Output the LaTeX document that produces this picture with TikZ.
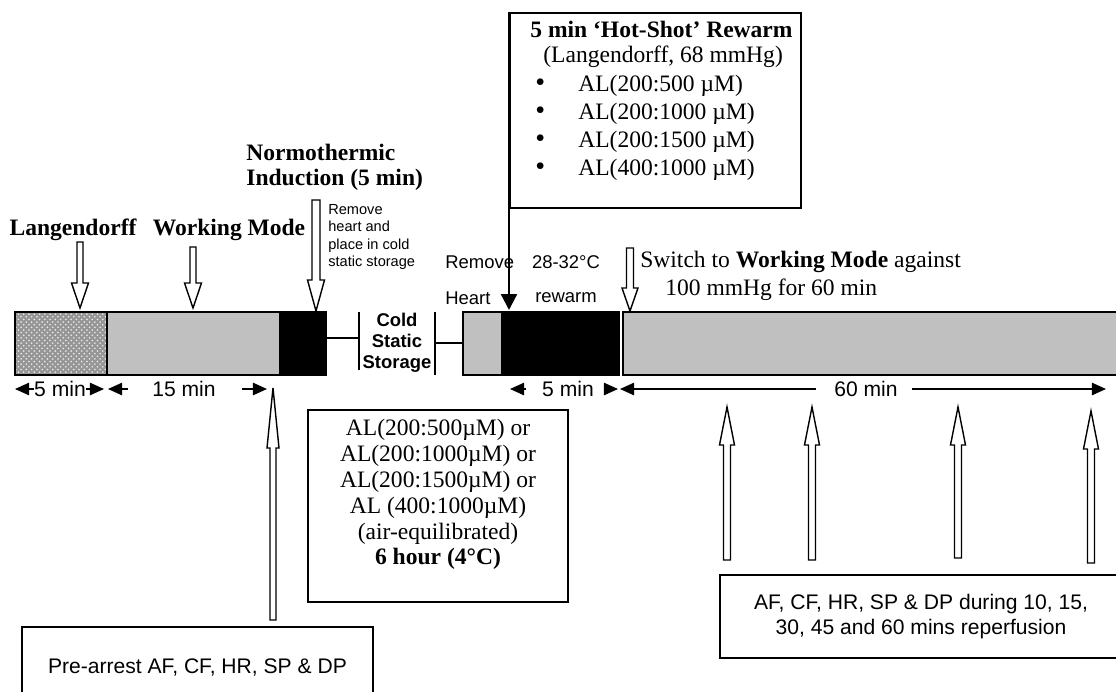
\documentclass[tikz,border=0pt]{standalone}
\usepackage{fontspec}
\setmainfont{Liberation Serif}
\setsansfont{Liberation Sans}
\usetikzlibrary{arrows.meta,patterns,calc}

\definecolor{barg}{RGB}{192,192,192}
\definecolor{stipg}{RGB}{150,150,150}

% hollow block arrow: x, tail y, head base y, tip y, half shaft, half head
\newcommand{\blockarrow}[6]{%
  \draw[blockarr] ({#1-#5},#2) -- ({#1-#5},#3) -- ({#1-#6},#3) -- (#1,#4)
    -- ({#1+#6},#3) -- ({#1+#5},#3) -- ({#1+#5},#2) -- cycle;}
% list bullet
\newcommand{\hsbullet}{\hspace*{0.1cm}\makebox[0.86cm][l]{\smash{\fontsize{16}{16}\selectfont•}}}

\begin{document}
\begin{tikzpicture}[x=0.02cm, y=-0.02cm,
    seg/.style={draw, line width=0.9pt},
    box/.style={draw, line width=1.1pt, inner sep=0pt},
    blockarr/.style={draw, fill=white, line width=0.8pt},
    dim/.style={line width=0.9pt, -{Triangle[length=8pt,width=7pt]}},
    serif/.style={font=\fontsize{13.4}{16}\selectfont},
    bserif/.style={font=\fontsize{13.4}{14.2}\selectfont\bfseries},
    sans/.style={font=\sffamily\fontsize{12}{14}\selectfont},
    msans/.style={font=\sffamily\fontsize{10.5}{12}\selectfont},
    ssans/.style={font=\sffamily\fontsize{8.3}{9.9}\selectfont}]
    \useasboundingbox (0,0) rectangle (1116,691);

    % Timeline before storage
    \draw[seg, preaction={fill=stipg}, pattern=crosshatch dots, pattern color=white!85!stipg]
        (15,312) rectangle (107,375);
    \draw[seg, fill=barg] (107,312) rectangle (280,375);
    \draw[seg, fill=black] (280,312) rectangle (326,375);

    % Cold static storage
    \draw[line width=0.9pt] (326,338) -- (359,338);
    \draw[line width=0.9pt] (359,312) -- (359,370);
    \draw[line width=0.9pt] (435,312) -- (435,375);
    \draw[line width=0.9pt] (435,343) -- (463,343);
    \node[align=center, font=\sffamily\bfseries\fontsize{10.5}{12}\selectfont] (cold) at (397,343)
        {Cold\\Static\\Storage};

    % Timeline after storage
    \draw[seg, fill=barg] (463,312) rectangle (502,375);
    \draw[seg, fill=black] (502,312) rectangle (619,375);
    \draw[seg, fill=barg] (623,312) rectangle (1122,375);

    % Labels above the bar
    \node[bserif] (lang) at (73,230) {Langendorff};
    \node[bserif] (work) at (229,230) {Working Mode};
    \node[bserif, anchor=west, align=left, inner sep=0pt] (normo) at (246,167)
        {Normothermic\\Induction (5 min)};
    \node[ssans, anchor=west, align=left, inner sep=0pt] (remove) at (328,237)
        {Remove\\heart and\\place in cold\\static storage};
    \node[msans, anchor=west, inner sep=0pt] (remh1) at (445,262) {Remove};
    \node[msans, anchor=west, inner sep=0pt] (remh2) at (445,298) {Heart};
    \node[msans] (temp) at (566,262) {28-32°C};
    \node[msans] (rewarm) at (566,298) {rewarm};
    \node[serif, anchor=west, inner sep=0pt] (switch) at (640,262)
        {Switch to \textbf{Working Mode} against};
    \node[serif, anchor=west, inner sep=0pt] (press) at (665,290) {100 mmHg for 60 min};

    % Down arrows
    \blockarrow{80}{242}{283}{308}{3}{8.5}
    \blockarrow{193}{247}{283}{308}{3}{8.5}
    \blockarrow{316}{200}{280}{311}{4}{8.5}
    \blockarrow{630}{248}{288}{311}{3.5}{8}

    % Hot-shot rewarm box
    \node[box, anchor=north west, minimum width=5.82cm, minimum height=3.9cm] (hotbox) at (509,12) {};
    \node[serif, anchor=north west, align=left, inner sep=0pt] (hottxt) at (530,21)
        {\textbf{5 min `Hot-Shot' Rewarm}\\[-1.6pt]
         \hspace*{0.26cm}(Langendorff, 68 mmHg)\\
         \hsbullet AL(200:500 µM)\\
         \hsbullet AL(200:1000 µM)\\
         \hsbullet AL(200:1500 µM)\\
         \hsbullet AL(400:1000 µM)};
    \draw[line width=1.3pt, -{Triangle[length=9pt,width=9pt]}] (hotbox.north west) -- (509,310);

    % Durations
    \node[sans, inner sep=0pt] (d5a) at (60,389) {5 min};
    \draw[dim] (d5a.west) -- (15,389);
    \draw[dim] (d5a.east) -- (104,389);
    \node[sans] (d15) at (184,389) {15 min};
    \draw[dim] ($(d15.west)+(-18,0)$) -- (108,389);
    \draw[dim] ($(d15.east)+(20,0)$) -- (267,389);
    \node[sans] (d5b) at (568,389) {5 min};
    \draw[dim] ($(d5b.west)+(-10,0)$) -- (510,389);
    \draw[dim] ($(d5b.east)+(6,0)$) -- (618,389);
    \node[sans] (d60) at (866,389) {60 min};
    \draw[dim] ($(d60.west)+(-12,0)$) -- (620,389);
    \draw[dim] ($(d60.east)+(8,0)$) -- (1106,389);

    % Storage solution box
    \node[box, minimum width=5.2cm, minimum height=3.84cm, align=center,
        font=\fontsize{13.4}{14.7}\selectfont] (store) at (438,506)
        {AL(200:500µM) or\\AL(200:1000µM) or\\AL(200:1500µM) or\\AL (400:1000µM)\\
         (air-equilibrated)\\\textbf{6 hour (4°C)}\\[1pt]};

    % Measurement arrows
    \blockarrow{273}{620}{448}{388}{3}{6}
    \blockarrow{727}{560}{445}{407}{3.5}{7.5}
    \blockarrow{812}{560}{445}{407}{3.5}{7.5}
    \blockarrow{958}{558}{445}{407}{3.5}{7.5}
    \blockarrow{1091}{563}{449}{411}{3.5}{7.5}

    % Measurement boxes
    \node[box, sans, minimum width=7.02cm, minimum height=1.6cm] (prearr) at (197.5,667)
        {Pre-arrest AF, CF, HR, SP \& DP};
    \node[box, sans, minimum width=8.04cm, minimum height=1.66cm, align=center] (reperf) at (921,616.5)
        {AF, CF, HR, SP \& DP during 10, 15,\\30, 45 and 60 mins reperfusion};
\end{tikzpicture}
\end{document}
